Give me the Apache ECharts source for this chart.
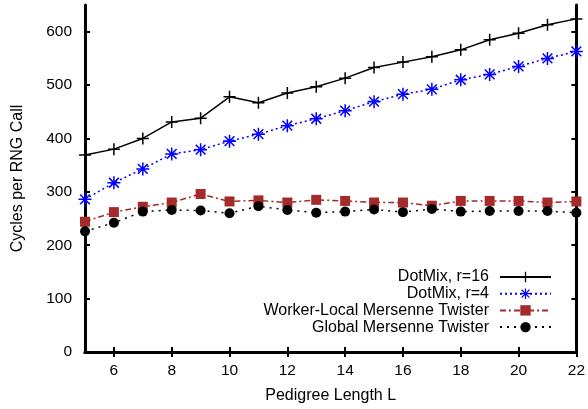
<!DOCTYPE html>
<html><head><meta charset="utf-8">
<script src="https://cdn.jsdelivr.net/npm/echarts@6/dist/echarts.min.js"></script>
<style>html,body{margin:0;padding:0;background:#fff}#c{width:588px;height:409px}</style>
</head><body><div id="c"></div>
<script>
const pedigreeLength = [5,6,7,8,9,10,11,12,13,14,15,16,17,18,19,20,21,22];
const dotMix16 = [369,380,400,431,438,478,467,485,497,513,533,543,553,566,585,597,613,624];
const dotMix4 = [286,317,343,371,379,395,408,424,437,452,469,483,492,510,520,535,550,563];
const workerLocalMT = [244,262,272,280,296,282,284,280,285,283,280,280,274,283,283,283,280,282];
const globalMT = [226,242,263,266,265,260,273,266,261,263,267,262,268,263,264,264,264,261];
const xTicks = [6,8,10,12,14,16,18,20,22];
const yTicks = [0,100,200,300,400,500,600];
const seriesNames = ['DotMix, r=16','DotMix, r=4','Worker-Local Mersenne Twister','Global Mersenne Twister'];

const FONT = 'Liberation Sans';
const zip = ys => pedigreeLength.map((x,i)=>[x, ys[i]]);
const plusSym = 'path://M5.25,0H6.75V5.25H12V6.75H6.75V12H5.25V6.75H0V5.25H5.25Z';
const starSym = 'path://M0,5.3H12V6.7H0Z M5.3,0H6.7V12H5.3Z M1,2L2,1L11,10L10,11Z M10,1L11,2L2,11L1,10Z';

const frameLine = {show:true, lineStyle:{color:'#000', width:3}};
const tickStyle = {inside:true, length:5, lineStyle:{color:'#000', width:2}};

const chart = echarts.init(document.getElementById('c'), null, {renderer:'canvas'});
chart.setOption({
  animation:false,
  backgroundColor:'#fff',
  grid:{left:85, right:11, top:5, bottom:55},
  xAxis:[{
    type:'value', min:5, max:22, position:'bottom',
    name:'Pedigree Length L', nameLocation:'middle', nameGap:36,
    nameTextStyle:{fontFamily:FONT, fontSize:16, color:'#000'},
    axisLine:frameLine,
    axisTick:Object.assign({customValues:xTicks}, tickStyle),
    axisLabel:{customValues:xTicks, fontFamily:FONT, fontSize:15.5, color:'#000', margin:11},
    splitLine:{show:false}
  },{
    type:'value', min:5, max:22, position:'top',
    axisLine:frameLine,
    axisTick:Object.assign({customValues:xTicks}, tickStyle),
    axisLabel:{show:false},
    splitLine:{show:false}
  }],
  yAxis:[{
    type:'value', min:0, max:650, position:'left',
    name:'Cycles per RNG Call', nameLocation:'middle', nameGap:59,
    nameTextStyle:{fontFamily:FONT, fontSize:16, color:'#000'},
    axisLine:frameLine,
    axisTick:Object.assign({customValues:yTicks}, tickStyle),
    axisLabel:{customValues:yTicks, fontFamily:FONT, fontSize:15.5, color:'#000', margin:13},
    splitLine:{show:false}
  },{
    type:'value', min:0, max:650, position:'right',
    axisLine:frameLine,
    axisTick:Object.assign({customValues:yTicks}, tickStyle),
    axisLabel:{show:false},
    splitLine:{show:false}
  }],
  legend:{
    orient:'vertical', right:31, top:264, align:'right',
    itemWidth:51, itemHeight:13, itemGap:0.7,
    textStyle:{fontFamily:FONT, fontSize:16, lineHeight:16, color:'#000', padding:[0,6,0,0]},
    data:seriesNames
  },
  series:[{
    name:seriesNames[0], type:'line', data:zip(dotMix16),
    symbol:plusSym, symbolSize:12, color:'#000',
    lineStyle:{color:'#000', width:1.5, type:'solid'}, itemStyle:{color:'#000'}
  },{
    name:seriesNames[1], type:'line', data:zip(dotMix4),
    symbol:starSym, symbolSize:13, color:'#0000ff',
    lineStyle:{color:'#0000ff', width:1.5, type:[2,3]}, itemStyle:{color:'#0000ff'}
  },{
    name:seriesNames[2], type:'line', data:zip(workerLocalMT),
    symbol:'rect', symbolSize:10, color:'#a52a2a',
    lineStyle:{color:'#a52a2a', width:1.5, type:[6,3,2,3]}, itemStyle:{color:'#a52a2a'}
  },{
    name:seriesNames[3], type:'line', data:zip(globalMT),
    symbol:'circle', symbolSize:10, color:'#000',
    lineStyle:{color:'#000', width:1.5, type:[2,5]}, itemStyle:{color:'#000'}
  }]
});
</script></body></html>
